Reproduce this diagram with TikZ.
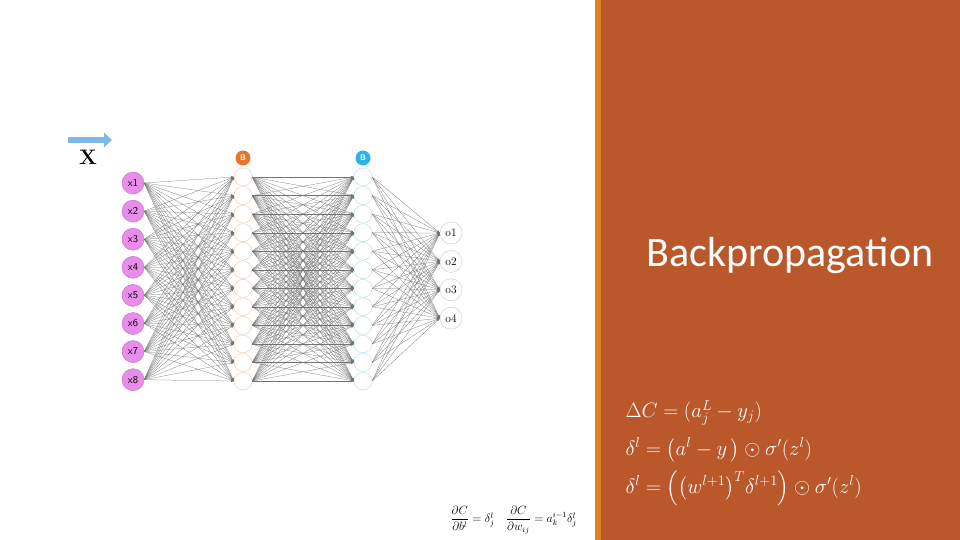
\documentclass[tikz,border=0pt]{standalone}
\usepackage{amsmath}
\usepackage{amssymb}
\usepackage{fontspec}
\usetikzlibrary{arrows.meta}
\newfontfamily\titlefont{Carlito}
\definecolor{panelbrown}{HTML}{BA582C}
\definecolor{panelstrip}{HTML}{E0801F}
\definecolor{inpink}{HTML}{E88EEA}
\definecolor{inpinkdark}{HTML}{C46AC8}
\definecolor{hidorange}{HTML}{F0C6B0}
\definecolor{hidblue}{HTML}{B4DCE8}
\definecolor{outline}{HTML}{D9C4B6}
\definecolor{biasorange}{HTML}{E8772E}
\definecolor{biasblue}{HTML}{2BB4E6}
\definecolor{arrowblue}{HTML}{7DB9E8}

\begin{document}
\begin{tikzpicture}[x=1pt,y=-1pt,
    neuron/.style={circle,draw,thin,inner sep=0pt,fill=white},
    inneuron/.style={neuron,minimum size=22pt,fill=inpink,draw=inpinkdark,font=\sffamily\fontsize{10.5}{10.5}\selectfont},
    hidneuron/.style={neuron,minimum size=18pt},
    outneuron/.style={neuron,minimum size=22pt,draw=outline,font=\fontsize{11.5}{11.5}\selectfont},
    biasnode/.style={circle,inner sep=0pt,minimum size=15pt,text=white,font=\sffamily\bfseries\fontsize{8}{8}\selectfont},
    link/.style={line width=0.25pt,black!55,-{Stealth[length=3pt,width=2.4pt]}},
    formula/.style={anchor=west,text=white,font=\fontsize{19.5}{22}\selectfont}]

  \useasboundingbox (0,0) rectangle (960,540);

  \fill[panelstrip] (595,0) rectangle (601,540);
  \fill[panelbrown] (601,0) rectangle (960,540);

  \coordinate (xstart) at (68,140);
  \coordinate (xend) at (112,140);
  \draw[arrowblue,line width=6pt,-{Triangle[length=8pt,width=14pt]}] (xstart) -- (xend);
  \node[font=\bfseries\fontsize{21}{21}\selectfont] (xlabel) at (88,157) {X};

  \foreach \i in {1,...,8}
    \node[inneuron] (in\i) at (133,{183+28.1*(\i-1)}) {x\i};

  \foreach \i in {1,...,12}
    \node[hidneuron,draw=hidorange] (ha\i) at (243,{177+18.55*(\i-1)}) {};
  \foreach \i in {1,...,12}
    \node[hidneuron,draw=hidblue] (hb\i) at (363,{177+18.55*(\i-1)}) {};

  \foreach \i in {1,...,4}
    \node[outneuron] (out\i) at (451,{233+28.4*(\i-1)}) {o\i};

  \node[biasnode,fill=biasorange] (biasa) at (243,158) {B};
  \node[biasnode,fill=biasblue] (biasb) at (363,158) {B};

  \foreach \i in {1,...,8}
    \foreach \j in {1,...,12}
      \draw[link] (in\i.east) -- (ha\j.west);
  \foreach \i in {1,...,12}
    \foreach \j in {1,...,12}
      \draw[link] (ha\i.east) -- (hb\j.west);
  \foreach \i in {1,...,12}
    \foreach \j in {1,...,4}
      \draw[link] (hb\i.east) -- (out\j.west);

  \node[text=white,font=\titlefont\fontsize{42}{46}\selectfont] (title) at (790,256) {Backpropagation};

  \node[formula] (eqcost) at (622,413) {$\Delta C = (a_j^L - y_j)$};
  \node[formula] (eqout) at (622,450) {$\delta^l = \bigl(a^l - y\,\bigr) \odot \sigma'(z^l)$};
  \node[formula] (eqhid) at (622,488) {$\delta^l = \Bigl(\bigl(w^{l+1}\bigr)^T \delta^{l+1}\Bigr) \odot \sigma'(z^l)$};

  \node[anchor=west,font=\fontsize{11.5}{13}\selectfont] (eqgrad) at (447,520)
    {$\dfrac{\partial C}{\partial b^l} = \delta_j^l \quad \dfrac{\partial C}{\partial w_{ij}} = a_k^{i-1}\delta_j^l$};
\end{tikzpicture}
\end{document}
